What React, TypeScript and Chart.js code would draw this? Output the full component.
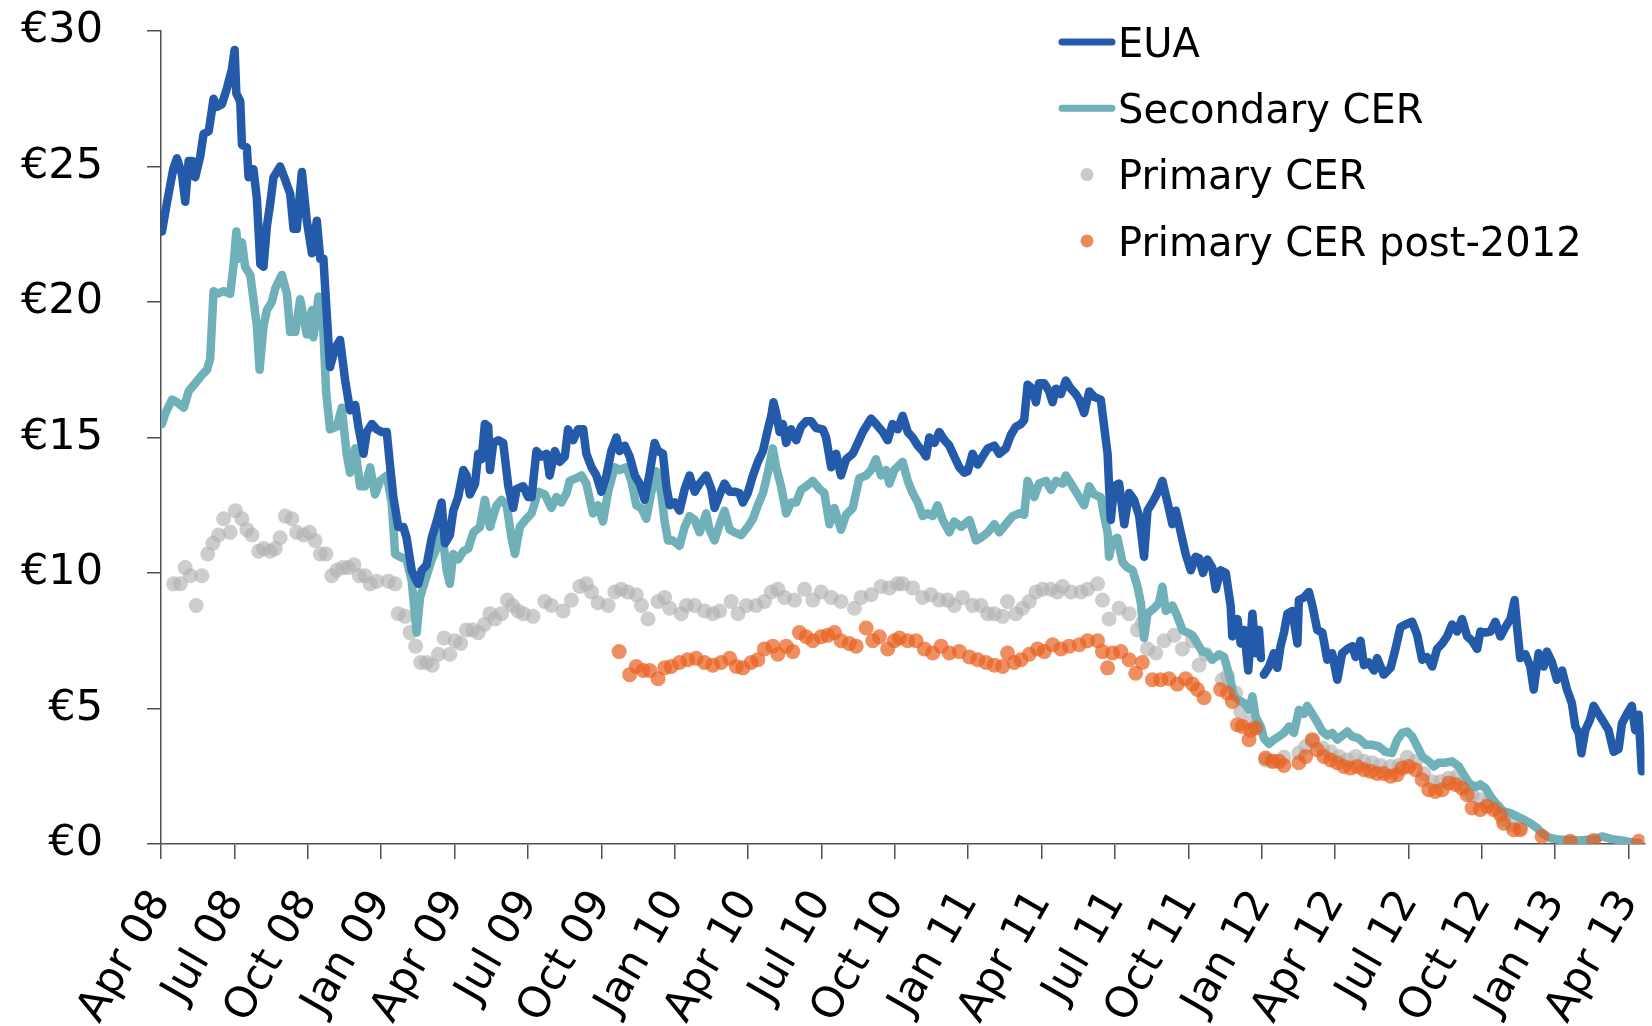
import { useEffect, useRef } from 'react';
import { Chart, registerables } from 'chart.js';

Chart.register(...registerables);

// Quarter tick labels (x value = months since Apr 2008, one tick every 3 months)
const xTickLabels = ['Apr 08', 'Jul 08', 'Oct 08', 'Jan 09', 'Apr 09', 'Jul 09', 'Oct 09', 'Jan 10', 'Apr 10', 'Jul 10', 'Oct 10', 'Jan 11', 'Apr 11', 'Jul 11', 'Oct 11', 'Jan 12', 'Apr 12', 'Jul 12', 'Oct 12', 'Jan 13', 'Apr 13'];

// EUA (€)
const euaMonths = [0.04, 0.25, 0.5, 0.65, 0.86, 0.99, 1.13, 1.27, 1.4, 1.61, 1.74, 1.95, 2.15, 2.29, 2.49, 2.7, 2.9, 3.01, 3.08, 3.24, 3.31, 3.51, 3.58, 3.78, 3.92, 4.06, 4.19, 4.33, 4.46, 4.6, 4.87, 5.08, 5.28, 5.42, 5.55, 5.76, 5.96, 6.17, 6.37, 6.51, 6.64, 6.78, 6.91, 7.12, 7.32, 7.53, 7.73, 7.94, 8.07, 8.28, 8.41, 8.62, 8.82, 9.02, 9.23, 9.36, 9.5, 9.7, 9.91, 10.04, 10.25, 10.39, 10.52, 10.66, 10.86, 11.07, 11.27, 11.47, 11.61, 11.81, 11.95, 12.15, 12.36, 12.49, 12.63, 12.84, 12.97, 13.11, 13.24, 13.38, 13.45, 13.58, 13.79, 13.99, 14.2, 14.4, 14.54, 14.81, 15.01,
  15.15, 15.35, 15.55, 15.76, 15.89, 16.1, 16.3, 16.51, 16.64, 16.85, 17.05, 17.26, 17.39, 17.6, 17.8, 18.0, 18.21, 18.41, 18.62, 18.75, 18.96, 19.16, 19.37, 19.57, 19.77, 19.98, 20.18, 20.32, 20.52, 20.66, 20.8, 21.0, 21.2, 21.41, 21.61, 21.82, 22.02, 22.29, 22.5, 22.63, 22.84, 23.04, 23.25, 23.45, 23.65, 23.79, 23.99, 24.2, 24.4, 24.61, 24.81, 24.95, 25.04, 25.15, 25.29, 25.42, 25.56, 25.76, 25.97, 26.17, 26.38, 26.58, 26.78, 27.06, 27.19, 27.4, 27.6, 27.8, 28.01, 28.28, 28.49, 28.69, 29.03, 29.23, 29.51, 29.71, 29.91, 30.12,
  30.32, 30.53, 30.73, 30.94, 31.14, 31.28, 31.41, 31.62, 31.82, 32.03, 32.23, 32.43, 32.64, 32.84, 32.98, 33.18, 33.39, 33.59, 33.8, 34.07, 34.27, 34.54, 34.75, 34.95, 35.16, 35.29, 35.43, 35.63, 35.77, 35.9, 36.11, 36.31, 36.45, 36.59, 36.79, 36.99, 37.2, 37.4, 37.54, 37.74, 37.95, 38.15, 38.42, 38.56, 38.7, 38.76, 38.83, 38.97, 39.17, 39.38, 39.58, 39.78, 39.99, 40.19, 40.33, 40.53, 40.74, 40.94, 41.15, 41.35, 41.49, 41.69, 41.89, 42.1, 42.3,
  42.44, 42.6, 42.78, 42.98, 43.12, 43.32, 43.53, 43.73, 43.8, 44.01, 44.14, 44.28, 44.45, 44.62, 44.75, 44.89, 44.97, 45.03, 45.09, 45.3, 45.5, 45.64, 45.77, 45.91, 46.05, 46.25, 46.46, 46.52, 46.73, 46.93, 47.07, 47.27, 47.48, 47.68, 47.88, 48.09, 48.29, 48.5, 48.7, 48.84, 49.04, 49.18, 49.38, 49.59, 49.72, 49.99, 50.27, 50.47, 50.67, 50.88, 51.15, 51.36, 51.56, 51.76, 51.97, 52.17, 52.38, 52.58, 52.78, 52.99, 53.19, 53.4, 53.6, 53.81, 53.94, 54.15, 54.35, 54.55, 54.76, 54.96, 55.17, 55.34, 55.44, 55.57, 55.78, 55.98, 56.12, 56.32, 56.53, 56.66, 56.87, 57.07, 57.28, 57.48, 57.68, 57.82, 57.96, 58.07, 58.23, 58.43, 58.57, 58.77, 58.98, 59.18, 59.39, 59.59, 59.73, 59.93, 60.13, 60.27, 60.41, 60.54];
const euaPrices = [22.6, 23.7, 24.9, 25.3, 24.7, 23.7, 25.2, 25.2, 24.6, 25.4, 26.2, 26.3, 27.5, 27.2, 27.3, 27.9, 28.6, 29.3, 27.7, 27.4, 25.8, 25.7, 24.6, 24.9, 23.8, 21.4, 21.3, 22.8, 23.6, 24.6, 25.0, 24.5, 24.0, 22.7, 22.7, 24.8, 23.0, 21.8, 23.0, 21.6, 21.6, 19.5, 17.6, 18.3, 18.6, 17.1, 16.0, 16.2, 15.4, 14.4, 15.2, 15.5, 15.3, 15.2, 15.2, 14.0, 12.8, 11.7, 11.7, 11.3, 10.1, 9.8, 9.6, 10.1, 10.3, 11.3, 11.9, 12.6, 11.1, 11.4, 12.3, 12.8, 13.8, 13.6, 12.9, 13.3, 14.4, 14.2, 15.5, 15.4, 13.8, 14.8, 14.9, 14.8, 13.2, 12.4, 13.1, 13.2, 12.8,
  12.8, 14.5, 14.3, 14.4, 13.6, 14.5, 14.1, 14.3, 15.3, 14.9, 15.3, 15.3, 14.4, 13.9, 13.6, 13.0, 13.6, 14.5, 15.0, 14.5, 14.7, 14.3, 13.6, 13.3, 12.7, 13.7, 14.8, 14.5, 14.4, 13.2, 12.5, 12.6, 12.3, 13.1, 13.6, 13.0, 13.3, 13.6, 13.1, 12.4, 12.9, 13.3, 13.0, 13.0, 12.95, 12.6, 12.95, 13.6, 14.1, 14.5, 15.3, 15.8, 16.3, 15.9, 15.2, 15.5, 14.8, 15.3, 14.9, 15.4, 15.6, 15.6, 15.35, 15.3, 15.0, 13.9, 14.4, 13.6, 14.2, 14.4, 14.8, 15.2, 15.7, 15.5, 15.2, 14.9, 15.5, 15.3,
  15.8, 15.2, 15.0, 14.7, 14.5, 14.3, 15.0, 14.8, 15.2, 14.9, 14.7, 14.3, 13.9, 13.7, 13.75, 14.4, 14.0, 14.3, 14.6, 14.7, 14.4, 14.6, 15.1, 15.4, 15.5, 15.65, 16.95, 16.8, 16.3, 17.0, 17.0, 16.7, 16.3, 16.8, 16.6, 17.1, 16.8, 16.6, 16.4, 15.9, 16.7, 16.5, 16.4, 15.4, 14.4, 13.2, 11.96, 13.2, 13.3, 11.8, 12.95, 12.7, 12.1, 10.6, 12.3, 12.6, 12.95, 13.4, 12.6, 11.8, 12.3, 11.5, 10.7, 10.1, 10.6,
  10.55, 10.0, 10.5, 10.2, 9.4, 10.1, 10.0, 8.8, 7.66, 8.3, 7.4, 7.9, 6.4, 8.5, 7.04, 7.9, 6.86, null, 6.25, 6.55, 7.04, 6.5, 7.3, 7.8, 8.5, 8.6, 7.4, 9.0, 9.1, 9.3, 8.8, 7.9, 7.8, 6.8, 7.04, 6.06, 7.04, 7.2, 7.3, 6.9, 7.5, 6.6, 6.7, 6.4, 6.86, 6.25, 6.5, 7.2, 8.0, 8.1, 8.2, 7.7, 6.8, 6.9, 6.55, 7.2, 7.4, 7.66, 8.1, 7.84, 8.3, 7.66, 7.5, 7.2, 7.84, 7.8, 7.84, 8.2, 7.66, 8.0, 8.3, 9.0, 8.0, 6.86, 7.0, 6.55, 5.7, 7.04, 6.55, 7.1, 6.7, 6.06, 6.4, 5.7, 5.2, 4.34, 4.1, 3.35, 4.2, 4.6, 5.1, 4.8, 4.5, 4.2, 3.4, 3.5, 4.46, 4.8, 5.1, 4.2, 4.77, 2.68];

// Secondary CER (€)
const secMonths = [0.04, 0.18, 0.45, 0.65, 0.93, 1.13, 1.4, 1.67, 1.88, 2.01, 2.15, 2.29, 2.56, 2.83, 2.97, 3.08, 3.17, 3.31, 3.44, 3.65, 3.78, 3.92, 4.03, 4.19, 4.33, 4.53, 4.67, 4.94, 5.15, 5.28, 5.49, 5.69, 5.96, 6.17, 6.23, 6.44, 6.64, 6.75, 6.91, 7.19, 7.39, 7.59, 7.73, 7.94, 8.14, 8.34, 8.55, 8.75, 8.96, 9.23, 9.43, 9.57, 9.77, 10.04, 10.25, 10.45, 10.59, 10.86, 11.07, 11.27, 11.47, 11.68, 11.81, 11.95, 12.15, 12.36, 12.56, 12.77, 13.04, 13.24, 13.45, 13.72, 13.92, 14.13, 14.33, 14.47, 14.67, 14.94,
  15.15, 15.42, 15.69, 15.96, 16.17, 16.37, 16.58, 16.71, 16.98, 17.19, 17.39, 17.66, 17.87, 18.07, 18.28, 18.55, 18.75, 19.03, 19.23, 19.43, 19.64, 19.84, 20.05, 20.25, 20.45, 20.59, 20.73, 20.93, 21.2, 21.41, 21.61, 21.82, 22.02, 22.29, 22.43, 22.63, 22.84, 23.04, 23.25, 23.45, 23.72, 23.99, 24.2, 24.4, 24.61, 24.81, 25.01, 25.15, 25.35, 25.56, 25.76, 25.97, 26.17, 26.38, 26.65, 26.92, 27.12, 27.33, 27.53, 27.8, 28.01, 28.28, 28.55, 28.83, 29.03, 29.23, 29.44, 29.64, 29.78, 29.98,
  30.32, 30.53, 30.73, 30.94, 31.14, 31.35, 31.55, 31.75, 31.96, 32.23, 32.43, 32.71, 33.05, 33.32, 33.52, 33.8, 34.07, 34.27, 34.54, 34.82, 35.09, 35.29, 35.43, 35.7, 35.9, 36.18, 36.38, 36.59, 36.86, 36.99, 37.27, 37.54, 37.74, 37.95, 38.15, 38.42, 38.56, 38.7, 38.76, 38.9, 39.1, 39.31, 39.51, 39.72, 39.92, 40.06, 40.19, 40.33, 40.6, 40.8, 40.94, 41.08, 41.35, 41.55, 41.76, 41.96, 42.17, 42.37, 42.57, 42.78, 42.98,
  43.26, 43.46, 43.67, 43.87, 44.07, 44.28, 44.48, 44.62, 44.75, 44.96, 45.09, 45.3, 45.5, 45.71, 45.91, 46.12, 46.32, 46.52, 46.73, 46.86, 47.07, 47.27, 47.48, 47.68, 47.88, 48.09, 48.29, 48.5, 48.7, 48.97, 49.25, 49.52, 49.79, 50.06, 50.33, 50.54, 50.74, 50.95, 51.15, 51.36, 51.56, 51.83, 52.04, 52.24, 52.51, 52.78, 53.06, 53.26, 53.47, 53.74, 53.94, 54.15, 54.35, 54.62, 54.89, 55.17, 55.44, 55.71, 55.98, 56.26, 56.53, 56.8, 57.14, 57.55, 57.96, 58.36, 58.64, 58.91, 59.32, 59.73, 60.13, 60.41];
const secPrices = [15.5, 15.9, 16.4, 16.3, 16.1, 16.7, 17.0, 17.3, 17.5, 17.9, 20.4, 20.3, 20.4, 20.3, 21.4, 22.6, 21.6, 22.2, 21.3, 21.0, 20.1, 19.1, 17.5, 19.1, 19.7, 20.0, 20.5, 21.0, 20.3, 18.9, 18.9, 20.1, 18.8, 19.7, 18.7, 20.2, 18.9, 16.7, 15.3, 15.4, 16.1, 14.4, 13.7, 14.6, 13.2, 13.2, 13.9, 12.9, 13.4, 13.6, 12.6, 10.7, 10.6, 10.5, 9.7, 7.8, 9.1, 9.9, 10.5, 10.9, 11.7, 10.1, 9.6, 10.7, 10.5, 10.8, 10.9, 11.5, 11.7, 12.7, 11.7, 12.5, 12.7, 12.5, 11.3, 10.7, 11.7, 12.0,
  12.2, 13.0, 12.9, 12.4, 12.8, 12.6, 12.95, 13.4, 13.5, 13.6, 13.3, 12.2, 12.5, 11.9, 13.0, 13.9, 13.8, 13.9, 13.4, 12.5, 12.4, 12.0, 13.0, 13.75, 12.95, 11.9, 11.2, 11.2, 11.0, 11.7, 12.1, 11.96, 11.5, 12.2, 11.6, 11.2, 11.8, 12.3, 11.6, 11.5, 11.4, 11.7, 12.0, 12.5, 12.95, 13.7, 14.6, 13.9, 13.2, 12.2, 12.6, 12.6, 13.07, 13.2, 13.4, 13.1, 12.95, 11.8, 12.4, 11.6, 12.15, 12.4, 13.5, 13.6, 13.8, 14.2, 13.6, 13.8, 13.3, 13.8,
  14.1, 13.4, 12.95, 12.6, 12.1, 12.2, 12.1, 12.5, 11.96, 11.5, 11.9, 11.7, 11.96, 11.2, 11.3, 11.5, 11.8, 11.5, 11.8, 12.1, 12.2, 12.15, 13.4, 12.8, 13.3, 13.4, 13.07, 13.4, 13.3, 13.6, 13.2, 12.8, 12.5, 13.2, 12.9, 12.8, 12.1, 11.5, 10.6, 11.2, 11.3, 10.4, 10.2, 10.1, 9.5, 8.9, 7.6, 8.5, 8.7, 8.9, 9.5, 8.6, 8.8, 8.4, 7.9, 7.8, 7.7, 7.4, 7.1, 7.05, 6.8,
  7.0, 6.9, 6.25, 5.45, 5.3, 5.2, 4.95, 5.45, 4.7, 4.34, 3.9, 3.7, 3.85, 3.97, 4.1, 4.34, 4.1, 4.95, 4.8, 5.1, 4.8, 4.5, 4.15, 4.0, 4.1, 3.85, 4.0, 4.15, 3.97, 3.9, 3.66, 3.66, 3.6, 3.4, 3.36, 3.85, 4.1, 4.15, 3.97, 3.6, 3.23, 3.05, 2.86, 3.0, 3.0, 3.05, 2.86, 2.56, 2.25, 2.1, 2.2, 2.06, 1.76, 1.45, 1.2, 1.14, 1.02, 0.9, 0.77, 0.59, 0.34, 0.22, 0.16, 0.16, 0.13, 0.16, 0.18, 0.28, 0.18, 0.13, 0.06, 0.04];

// Primary CER (€)
const priMonths = [0.52, 0.79, 0.99, 1.2, 1.44, 1.67, 1.91, 2.12, 2.35, 2.56, 2.83, 3.04, 3.31, 3.51, 3.72, 3.99, 4.19, 4.46, 4.67, 4.87, 5.08, 5.35, 5.55, 5.83, 6.07, 6.3, 6.51, 6.74, 6.98, 7.19, 7.43, 7.66, 7.89, 8.11, 8.34, 8.55, 8.82, 9.3, 9.57, 9.7, 9.98, 10.18, 10.41, 10.62, 10.86, 11.09, 11.34, 11.57, 11.81, 12.02, 12.25, 12.49, 12.74, 12.97, 13.22, 13.45, 13.65, 13.92, 14.16, 14.37, 14.6,
  14.81, 15.21, 15.69, 15.96, 16.44, 16.78, 17.12, 17.39, 17.6, 17.87, 18.28, 18.55, 18.82, 19.09, 19.43, 19.64, 19.91, 20.32, 20.59, 20.8, 21.27, 21.48, 21.82, 22.22, 22.56, 22.84, 23.31, 23.59, 23.93, 24.33, 24.67, 24.95, 25.22, 25.49, 25.9, 26.31, 26.65, 26.99, 27.4, 27.8, 28.35, 28.62, 29.03, 29.44, 29.78, 30.12,
  30.32, 30.73, 31.14, 31.48, 31.82, 32.16, 32.43, 32.77, 33.18, 33.52, 33.8, 34.07, 34.41, 34.61, 34.95, 35.22, 35.5, 35.77, 36.04, 36.38, 36.65, 36.86, 37.2, 37.61, 37.88, 38.29, 38.49, 38.76, 39.17, 39.58, 39.92, 40.12, 40.33, 40.67, 41.01, 41.42, 41.76, 42.17, 42.44, 42.71,
  43.39, 43.6, 43.94, 44.14, 44.48, 44.75, 45.16, 45.5, 45.91, 46.52, 46.8, 47.07, 47.48, 47.82, 48.16, 48.5, 48.84, 49.18, 49.52, 49.86, 50.27, 50.61, 50.95, 51.29, 51.63, 51.97, 52.31, 52.65, 52.99, 53.33, 53.6, 53.94, 54.28, 54.62, 54.89, 55.23, 55.57];
const priPrices = [9.6, 9.6, 10.2, 9.9, 8.8, 9.9, 10.7, 11.1, 11.4, 12.0, 11.5, 12.3, 12.0, 11.6, 11.4, 10.8, 10.9, 10.8, 10.9, 11.3, 12.1, 12.0, 11.5, 11.4, 11.5, 11.2, 10.7, 10.7, 9.9, 10.1, 10.2, 10.2, 10.3, 9.9, 9.9, 9.6, 9.7, 9.7, 9.6, 8.5, 8.4, 7.8, 7.3, 6.7, 6.7, 6.6, 7.0, 7.6, 7.0, 7.5, 7.4, 7.9, 7.9, 7.8, 8.1, 8.5, 8.3, 8.5, 9.0, 8.8, 8.6,
  8.5, 8.4, 8.95, 8.8, 8.6, 9.0, 9.5, 9.6, 9.3, 8.9, 8.8, 9.3, 9.4, 9.3, 9.2, 8.8, 8.3, 8.95, 9.1, 8.7, 8.5, 8.8, 8.8, 8.6, 8.5, 8.6, 8.95, 8.5, 8.8, 8.8, 8.95, 9.3, 9.4, 9.1, 9.0, 9.4, 9.0, 9.3, 9.1, 8.95, 8.7, 9.1, 9.2, 9.5, 9.45, 9.6,
  9.6, 9.45, 9.1, 9.2, 9.0, 9.0, 8.8, 9.1, 8.8, 8.8, 8.5, 8.5, 8.4, 8.95, 8.5, 8.7, 8.95, 9.3, 9.4, 9.4, 9.3, 9.5, 9.3, 9.3, 9.4, 9.6, 9.0, 8.3, 8.7, 8.5, 7.9, 8.15, 7.2, 7.05, 7.5, 7.7, 7.2, 7.5, 6.6, 7.0,
  6.06, 6.2, 5.57, 4.9, 4.5, 4.34, 3.1, 3.05, 3.2, 3.36, 3.6, 3.8, 3.54, 3.4, 3.23, 3.1, 3.23, 3.05, 3.0, 2.9, 2.86, 2.9, 3.2, 3.05, 2.6, 2.3, 2.3, 2.43, 2.5, 2.1, 1.82, 1.63, 1.57, 1.33, 0.9, 0.71, 0.59];

// Primary CER post-2012 (€)
const postMonths = [18.73, 19.16, 19.43, 19.71, 19.98, 20.32, 20.59, 20.86, 21.2, 21.54, 21.88, 22.22, 22.56, 22.9, 23.25, 23.52, 23.79, 24.13, 24.4, 24.67, 25.01, 25.22, 25.56, 25.83, 26.1, 26.38, 26.65, 26.99, 27.26, 27.53, 27.8, 28.14, 28.42, 28.83, 29.1, 29.37, 29.71, 29.98,
  30.19, 30.53, 30.87, 31.21, 31.55, 31.89, 32.23, 32.64, 33.05, 33.39, 33.73, 34.07, 34.41, 34.61, 34.88, 35.16, 35.5, 35.84, 36.11, 36.45, 36.79, 37.13, 37.54, 37.88, 38.29, 38.49, 38.7, 38.9, 39.24, 39.58, 39.85, 40.12, 40.53, 40.87, 41.21, 41.55, 41.89, 42.17, 42.37, 42.64,
  43.32, 43.6, 43.8, 44.01, 44.21, 44.48, 44.55, 44.75, 45.16, 45.43, 45.71, 45.91, 46.52, 46.8, 47.07, 47.27, 47.54, 47.82, 48.09, 48.36, 48.63, 48.91, 49.18, 49.45, 49.72, 49.99, 50.27, 50.54, 50.74, 51.02, 51.29, 51.56, 51.83, 52.1, 52.38, 52.65, 52.92, 53.19, 53.4, 53.6, 53.94, 54.21, 54.49, 54.76, 54.89, 55.3, 55.57, 56.46, 57.62, 58.57, 60.41];
const postPrices = [7.1, 6.25, 6.55, 6.4, 6.4, 6.1, 6.5, 6.55, 6.7, 6.8, 6.85, 6.7, 6.6, 6.7, 6.85, 6.55, 6.5, 6.7, 6.8, 7.2, 7.3, 7.0, 7.3, 7.1, 7.8, 7.65, 7.5, 7.65, 7.7, 7.8, 7.5, 7.4, 7.3, 7.97, 7.5, 7.65, 7.2, 7.5,
  7.6, 7.5, 7.5, 7.2, 7.05, 7.3, 7.05, 7.1, 6.9, 6.8, 6.7, 6.6, 6.55, 7.05, 6.7, 6.8, 7.0, 7.2, 7.1, 7.35, 7.2, 7.3, 7.35, 7.5, 7.5, 7.1, 6.5, 7.05, 7.1, 6.8, 6.3, 6.7, 6.06, 6.06, 6.1, 5.9, 6.1, 5.9, 5.7, 5.4,
  5.7, 5.57, 5.26, 4.4, 4.34, 3.85, 4.2, 4.28, 3.17, 3.05, 3.05, 2.9, 3.0, 3.23, 3.85, 3.48, 3.23, 3.1, 3.0, 2.86, 2.8, 2.86, 2.74, 2.68, 2.6, 2.6, 2.5, 2.56, 2.8, 2.86, 2.74, 2.37, 2.0, 1.94, 2.0, 2.25, 2.2, 2.06, 1.82, 1.33, 1.27, 1.39, 1.27, 1.08, 0.77, 0.53, 0.53, 0.28, 0.1, 0.13, 0.1];

const FONT = 'DejaVu Sans';
const AXIS_COLOR = '#505050';
const EUA_COLOR = '#235BAA';
const SEC_COLOR = '#70B0B9';
const PRI_COLOR = 'rgba(178,178,178,0.65)';
const POST_COLOR = 'rgba(232,96,30,0.7)';

const pts = (xs: number[], ys: (number | null)[]) => xs.map((x, i) => ({ x, y: ys[i] }));

const legendPlugin = {
  id: 'customLegend',
  afterDraw(chart: any) {
    const ctx = chart.ctx as CanvasRenderingContext2D;
    const items = [
      { ds: 0, kind: 'line', color: EUA_COLOR },
      { ds: 1, kind: 'line', color: SEC_COLOR },
      { ds: 2, kind: 'dot', color: '#CACACA' },
      { ds: 3, kind: 'dot', color: '#EE8A58' },
    ];
    const x0 = 1062;
    const x1 = 1112;
    const textX = 1118;
    const y0 = 42;
    const step = 66.3;
    ctx.save();
    items.forEach((it, i) => {
      const y = y0 + i * step;
      if (it.kind === 'line') {
        ctx.strokeStyle = it.color;
        ctx.lineWidth = 7;
        ctx.lineCap = 'round';
        ctx.beginPath();
        ctx.moveTo(x0, y);
        ctx.lineTo(x1, y);
        ctx.stroke();
      } else {
        ctx.fillStyle = it.color;
        ctx.beginPath();
        ctx.arc((x0 + x1) / 2, y, 6.5, 0, Math.PI * 2);
        ctx.fill();
      }
      ctx.fillStyle = '#000';
      ctx.font = `40px "${FONT}"`;
      ctx.textAlign = 'left';
      ctx.textBaseline = 'alphabetic';
      ctx.fillText(chart.data.datasets[it.ds].label, textX, y + 14.6);
    });
    ctx.restore();
  },
};

export default function App() {
  const ref = useRef<HTMLCanvasElement | null>(null);
  useEffect(() => {
    document.body.style.margin = '0';
    const canvas = ref.current;
    if (!canvas) return;
    Chart.defaults.font.family = FONT;
    const lineStyle = { pointRadius: 0, borderWidth: 8.5, borderJoinStyle: 'round', borderCapStyle: 'round', spanGaps: false };
    const dotStyle = { showLine: false, pointRadius: 7.5, pointBorderColor: 'rgba(0,0,0,0)', pointBorderWidth: 0 };
    const chart = new Chart(canvas, {
      type: 'line',
      data: {
        datasets: [
          { label: 'EUA', data: pts(euaMonths, euaPrices), borderColor: EUA_COLOR, ...lineStyle, order: 1 },
          { label: 'Secondary CER', data: pts(secMonths, secPrices), borderColor: SEC_COLOR, ...lineStyle, order: 2 },
          { label: 'Primary CER', data: pts(priMonths, priPrices), pointBackgroundColor: PRI_COLOR, ...dotStyle, order: 3 },
          { label: 'Primary CER post-2012', data: pts(postMonths, postPrices), pointBackgroundColor: POST_COLOR, ...dotStyle, order: 0 },
        ],
      } as any,
      options: {
        responsive: false,
        animation: false,
        events: [],
        layout: { padding: { top: 31, right: 6, left: 0, bottom: 0 } },
        plugins: { legend: { display: false }, tooltip: { enabled: false } },
        scales: {
          x: {
            type: 'linear',
            min: 0,
            max: 60.65,
            afterBuildTicks: (s: any) => {
              s.ticks = xTickLabels.map((_, i) => ({ value: i * 3 }));
            },
            afterFit: (s: any) => {
              s.height = 182;
              s.paddingLeft = 0;
              s.paddingRight = 0;
            },
            grid: { drawOnChartArea: false, drawTicks: true, tickLength: 15, color: AXIS_COLOR, lineWidth: 1.5 },
            border: { display: true, color: AXIS_COLOR, width: 1.5 },
            ticks: {
              autoSkip: false,
              minRotation: 60,
              maxRotation: 60,
              padding: 23,
              color: '#000',
              font: { family: FONT, size: 43 },
              callback: (v: any) => xTickLabels[Math.round(Number(v) / 3)] ?? '',
            },
          },
          y: {
            min: 0,
            max: 30,
            afterFit: (s: any) => {
              s.width = 161;
              s.paddingTop = 0;
              s.paddingBottom = 0;
            },
            grid: { drawOnChartArea: false, drawTicks: true, tickLength: 14, color: AXIS_COLOR, lineWidth: 1.5 },
            border: { display: true, color: AXIS_COLOR, width: 1.5 },
            ticks: {
              stepSize: 5,
              padding: 44,
              color: '#000',
              font: { family: FONT, size: 43 },
              callback: (v: any) => '€' + v,
            },
          },
        },
      } as any,
      plugins: [legendPlugin],
    });
    return () => chart.destroy();
  }, []);
  return <canvas ref={ref} width={1652} height={1026} style={{ display: 'block' }} />;
}
